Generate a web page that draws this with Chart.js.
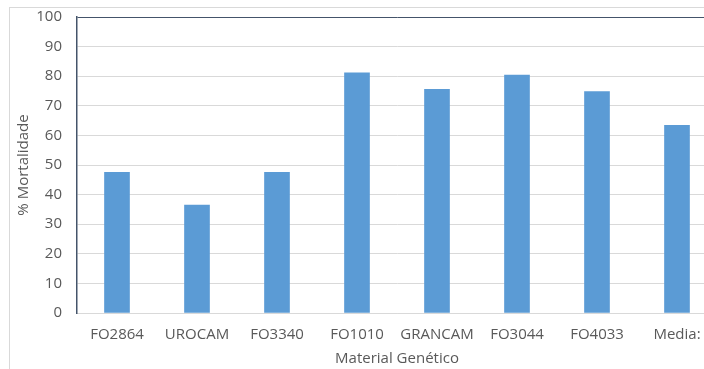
<!DOCTYPE html>
<html>
<head>
<meta charset="utf-8">
<script src="https://cdn.jsdelivr.net/npm/chart.js@4"></script>
<style>
  html, body { margin: 0; padding: 0; background: #fff; overflow: hidden; }
  #frame { position: absolute; left: 9px; top: 7px; width: 800px; height: 400px; border: 1px solid #d9d9d9; }
  #wrap { position: absolute; left: 0; top: 0; width: 740px; height: 369px; }
</style>
</head>
<body>
<div id="frame"></div>
<div id="wrap"><canvas id="chart"></canvas></div>
<script>
// material names along the x axis
var categories = ["FO2864", "UROCAM", "FO3340", "FO1010", "GRANCAM", "FO3044", "FO4033", "Media:"];
// % mortalidade per material
var mortalidade = [47.5, 36.5, 47.5, 81.1, 75.6, 80.4, 74.8, 63.4];
var yTicks = [0, 10, 20, 30, 40, 50, 60, 70, 80, 90, 100];

var grey = "#595959";
var fontName = "'Open Sans', 'Liberation Sans', sans-serif";

const ctx = document.getElementById("chart");
new Chart(ctx, {
  type: "bar",
  data: {
    labels: categories,
    datasets: [
      {
        label: "% Mortalidade",
        data: mortalidade,
        backgroundColor: "#5b9bd5",
        borderWidth: 0,
        barThickness: 25,
      },
    ],
  },
  options: {
    responsive: true,
    maintainAspectRatio: false,
    animation: false,
    layout: {
      padding: { left: 0, top: 17, right: 23, bottom: 0 },
    },
    plugins: {
      legend: { display: false },
      tooltip: { enabled: false },
    },
    scales: {
      x: {
        grid: { display: false, drawTicks: false },
        border: { color: "#d9d9d9", width: 1 },
        ticks: {
          color: grey,
          padding: 13,
          maxRotation: 0,
          autoSkip: false,
          font: { family: fontName, size: 15 },
        },
        title: {
          display: true,
          text: "Material Genético",
          color: grey,
          padding: { top: 0, bottom: 1 },
          font: { family: fontName, size: 15 },
        },
        afterFit: function (scale) {
          scale.height = 56;
          scale.paddingLeft = 0;
          scale.paddingRight = 0;
        },
      },
      y: {
        min: 0,
        max: 100,
        afterBuildTicks: function (scale) {
          scale.ticks = yTicks.map(function (v) { return { value: v }; });
        },
        grid: {
          drawTicks: false,
          lineWidth: 1,
          color: function (c) {
            return c.tick && c.tick.value === 100 ? "#44546a" : "#d9d9d9";
          },
        },
        border: { color: "#44546a", width: 1.5 },
        ticks: {
          color: grey,
          padding: 15,
          font: { family: fontName, size: 15 },
        },
        title: {
          display: true,
          text: "% Mortalidade",
          color: grey,
          padding: { top: 15, bottom: 0 },
          font: { family: fontName, size: 15 },
        },
        afterFit: function (scale) {
          scale.width = 77;
          scale.paddingTop = 0;
          scale.paddingBottom = 0;
        },
      },
    },
  },
});
</script>
</body>
</html>
